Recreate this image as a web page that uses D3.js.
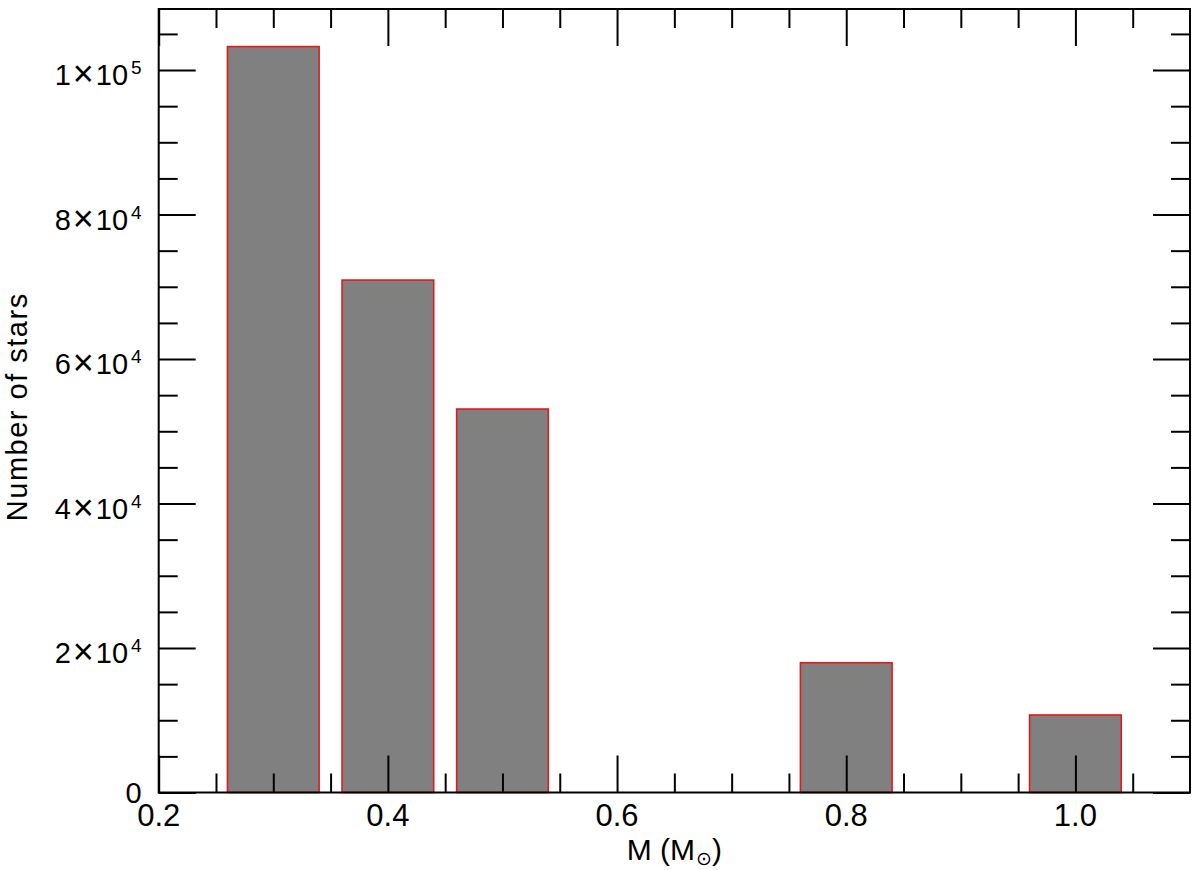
<!DOCTYPE html>
<html>
<head>
<meta charset="utf-8">
<script src="https://cdn.jsdelivr.net/npm/d3@7"></script>
<style>
  body { margin: 0; background: #fff; }
  text { font-family: "Liberation Sans", Arial, Helvetica, sans-serif; fill: #000; }
  .tick line { stroke: #000; stroke-width: 2; }
</style>
</head>
<body>
<script>
// histogram of stellar masses
var massBins = [0.3, 0.4, 0.5, 0.8, 1.0];
var starCounts = [103250, 70930, 53080, 17960, 10730];

var xMajor = [0.2, 0.4, 0.6, 0.8, 1.0];
var xTickLabels = ["0.2", "0.4", "0.6", "0.8", "1.0"];
var xMinor = [0.25, 0.3, 0.35, 0.45, 0.5, 0.55, 0.65, 0.7, 0.75, 0.85, 0.9, 0.95, 1.05];

var yMajor = [0, 20000, 40000, 60000, 80000, 100000];
var yTickMant = ["0", "2", "4", "6", "8", "1"];
var yTickExp = ["", "4", "4", "4", "4", "5"];
var yMinor = [5000, 10000, 15000, 25000, 30000, 35000, 45000, 50000, 55000,
              65000, 70000, 75000, 85000, 90000, 95000, 105000];

var width = 1200, height = 870;
var margin = {left: 158.7, top: 9, right: 10, bottom: 77.5};
var w = width - margin.left - margin.right;
var h = height - margin.top - margin.bottom;
var binWidth = 0.08;

var svg = d3.select("body").append("svg")
    .attr("width", width)
    .attr("height", height);

var g = svg.append("g")
    .attr("transform", "translate(" + margin.left + "," + margin.top + ")");

var x = d3.scaleLinear().domain([0.2, 1.1]).range([0, w]);
var y = d3.scaleLinear().domain([0, 108450]).range([h, 0]);

// bars
g.selectAll("rect.bar")
    .data(massBins)
    .enter().append("rect")
    .attr("class", "bar")
    .attr("x", function(d) { return x(d - binWidth / 2); })
    .attr("width", function(d) { return x(d + binWidth / 2) - x(d - binWidth / 2); })
    .attr("y", function(d, i) { return y(starCounts[i]); })
    .attr("height", function(d, i) { return h - y(starCounts[i]); })
    .attr("fill", "#808080")
    .attr("stroke", "#e31a1c")
    .attr("stroke-width", 1.6);

// inward ticks on all four sides
function ticks(axis, vals, len, tr) {
  var a = g.append("g")
      .attr("transform", tr || null)
      .call(axis.tickValues(vals).tickSize(-len).tickFormat(""));
  a.select(".domain").remove();
}
ticks(d3.axisBottom(x), xMajor, 37, "translate(0," + h + ")");
ticks(d3.axisBottom(x), xMinor, 19, "translate(0," + h + ")");
ticks(d3.axisTop(x), xMajor, 37);
ticks(d3.axisTop(x), xMinor, 19);
ticks(d3.axisLeft(y), yMajor, 37);
ticks(d3.axisLeft(y), yMinor, 19);
ticks(d3.axisRight(y), yMajor, 37, "translate(" + w + ",0)");
ticks(d3.axisRight(y), yMinor, 19, "translate(" + w + ",0)");

// frame
g.append("rect")
    .attr("width", w)
    .attr("height", h)
    .attr("fill", "none")
    .attr("stroke", "#000")
    .attr("stroke-width", 2);

// x tick labels
g.selectAll("text.xl")
    .data(xMajor)
    .enter().append("text")
    .attr("class", "xl")
    .attr("x", function(d) { return x(d); })
    .attr("y", h + 33.5)
    .attr("text-anchor", "middle")
    .style("font-size", "31px")
    .text(function(d, i) { return xTickLabels[i]; });

// y tick labels with exponents
var yl = g.selectAll("text.yl")
    .data(yMajor)
    .enter().append("text")
    .attr("class", "yl")
    .attr("x", -17)
    .attr("y", function(d, i) { return y(d) + (yTickExp[i] ? 15 : 10); })
    .attr("text-anchor", "end")
    .style("font-size", "29px");
yl.append("tspan").text(function(d, i) { return yTickMant[i]; });
yl.filter(function(d, i) { return yTickExp[i]; }).append("tspan")
    .style("font-size", "36px")
    .attr("dx", 2)
    .attr("dy", 1)
    .text("\u00d7");
yl.filter(function(d, i) { return yTickExp[i]; }).append("tspan")
    .attr("dx", 2)
    .attr("dy", -1)
    .text("10");
yl.append("tspan")
    .attr("dx", 3)
    .attr("dy", -11)
    .style("font-size", "19px")
    .text(function(d, i) { return yTickExp[i]; });

// axis titles
var xt = svg.append("text")
    .attr("x", margin.left + w / 2)
    .attr("y", 860)
    .attr("text-anchor", "middle")
    .style("font-size", "30px");
xt.append("tspan").text("M (M");
xt.append("tspan")
    .attr("dy", 5)
    .attr("dx", 1)
    .style("font-size", "19px")
    .style("font-family", "'DejaVu Sans', sans-serif")
    .text("\u2299");
xt.append("tspan").attr("dy", -5).text(")");

svg.append("text")
    .attr("transform", "translate(27," + (margin.top + h / 2 + 6) + ") rotate(-90)")
    .attr("text-anchor", "middle")
    .style("font-size", "29px")
    .style("letter-spacing", "1.5px")
    .text("Number of stars");
</script>
</body>
</html>
